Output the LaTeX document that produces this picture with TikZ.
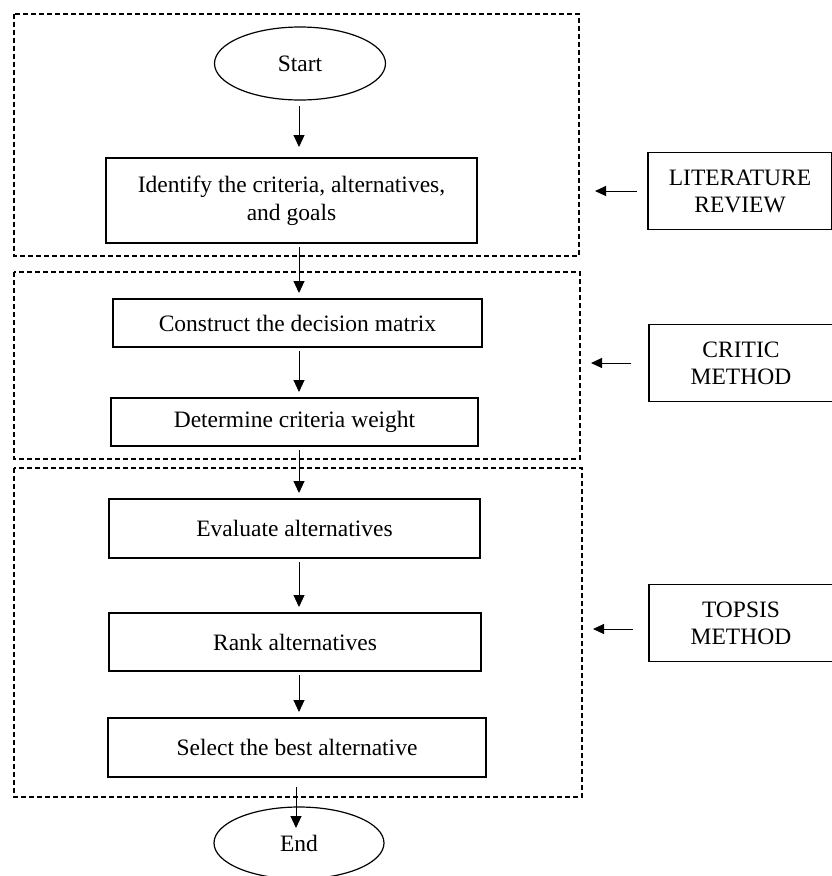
\documentclass[tikz,border=0pt]{standalone}
\usepackage{fontspec}
\setmainfont{Liberation Serif}
\usetikzlibrary{shapes.geometric,arrows.meta}
\begin{document}
\begin{tikzpicture}[x=1pt,y=-1pt,
  every node/.style={font=\fontsize{23.5}{28}\selectfont, inner sep=0pt, outer sep=0pt},
  stepbox/.style={draw, line width=1.4pt, align=center},
  termnode/.style={draw, ellipse, line width=1.2pt},
  sidebox/.style={draw, line width=1.4pt, align=center, minimum width=184pt, minimum height=77pt},
  group/.style={draw, dashed, dash pattern=on 5pt off 3pt, line width=1.2pt},
  arr/.style={-{Triangle[length=12pt,width=11pt]}, line width=1pt, shorten <=4pt, shorten >=6pt},
  sarr/.style={-{Triangle[length=11pt,width=10pt]}, line width=1pt}
]
\useasboundingbox (0,0) rectangle (832,876);
% dashed groups
\draw[group] (14,14) rectangle (579,256);
\draw[group] (14,272) rectangle (580,459);
\draw[group] (14,468) rectangle (582,797);
% flow nodes
\node[termnode, minimum width=171pt, minimum height=73pt] (start) at (300,63.5) {Start};
\node[stepbox, minimum width=371pt, minimum height=85pt] (identify) at (291.5,200.5) {Identify the criteria, alternatives,\\and goals};
\node[stepbox, minimum width=369pt, minimum height=48pt] (construct) at (297.5,323) {Construct the decision matrix};
\node[stepbox, minimum width=367pt, minimum height=48pt] (determine) at (294.5,422) {Determine criteria weight};
\node[stepbox, minimum width=371pt, minimum height=59pt] (evaluate) at (294.5,528.5) {Evaluate alternatives};
\node[stepbox, minimum width=372pt, minimum height=58pt] (rank) at (295,642) {Rank alternatives};
\node[stepbox, minimum width=378pt, minimum height=59pt] (select) at (297,747.5) {Select the best alternative};
\node[termnode, minimum width=170pt, minimum height=72pt] (endn) at (299,843) {End};
% side boxes
\node[sidebox, font=\fontsize{23.5}{27}\selectfont] (lit) at (740,191) {LITERATURE\\REVIEW};
\node[sidebox, font=\fontsize{23.5}{27}\selectfont] (critic) at (741,363) {CRITIC\\METHOD};
\node[sidebox, font=\fontsize{23.5}{27}\selectfont] (topsis) at (741,623) {TOPSIS\\METHOD};
% arrows
\coordinate (ax) at (299,0);
\draw[arr, shorten <=6pt, shorten >=11pt] (ax |- start.south) -- (ax |- identify.north);
\draw[arr] (ax |- identify.south) -- (ax |- construct.north);
\draw[arr] (ax |- construct.south) -- (ax |- determine.north);
\draw[arr] (ax |- determine.south) -- (ax |- evaluate.north);
\draw[arr] (ax |- evaluate.south) -- (ax |- rank.north);
\draw[arr] (ax |- rank.south) -- (ax |- select.north);
\draw[arr, shorten <=10pt, shorten >=-21pt] (296,0 |- select.south) -- (296,0 |- endn.north);
% side arrows
\coordinate (litTip) at (595,191);
\coordinate (criticTip) at (591,363);
\coordinate (topsisTip) at (593,629);
\draw[sarr, shorten <=11pt] (lit.west) -- (litTip);
\draw[sarr, shorten <=18pt] (critic.west |- criticTip) -- (criticTip);
\draw[sarr, shorten <=16pt] (topsis.west |- topsisTip) -- (topsisTip);
\end{tikzpicture}
\end{document}
